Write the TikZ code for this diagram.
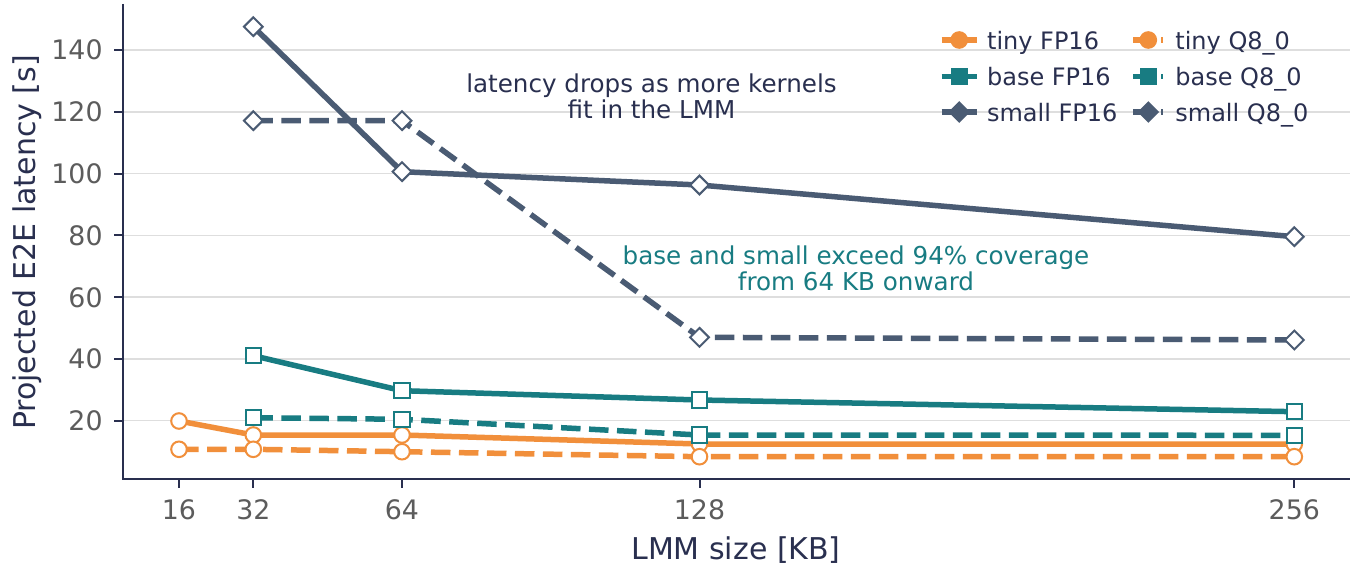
\documentclass[tikz,border=0pt]{standalone}
\usepackage{fontspec}
\setmainfont{DejaVu Sans}
\usetikzlibrary{shapes.geometric}
\definecolor{corange}{HTML}{F18F3B}
\definecolor{cteal}{HTML}{187C82}
\definecolor{cslate}{HTML}{4A5B73}
\definecolor{cnavy}{HTML}{292F4F}
\definecolor{cgray}{HTML}{5C5C5C}
\definecolor{cgrid}{HTML}{DEDEDE}
\begin{document}
\begin{tikzpicture}[x=0.5pt,y=-0.5pt,
  series/.style={line width=2.75pt, line join=round, draw=#1},
  dseries/.style={series=#1, dash pattern=on 9.75pt off 4.25pt},
  mkc/.style={circle, draw=#1, fill=white, line width=1pt, minimum size=7.8pt, inner sep=0pt},
  mks/.style={rectangle, draw=#1, fill=white, line width=1pt, minimum size=7.6pt, inner sep=0pt},
  mkd/.style={diamond, aspect=1, draw=#1, fill=white, line width=1pt, minimum width=9.8pt, minimum height=9.8pt, inner sep=0pt},
  lgc/.style={mkc=#1, fill=#1},
  lgs/.style={mks=#1, fill=#1},
  lgd/.style={mkd=#1, fill=#1},
  ticklab/.style={font=\fontsize{13.4}{16}\selectfont, text=cgray, inner sep=0pt},
  axlab/.style={font=\fontsize{15}{18}\selectfont, text=cnavy, inner sep=0pt},
  lgtext/.style={font=\fontsize{12}{14}\selectfont, text=cnavy, inner sep=0pt, anchor=base west},
  annot/.style={font=\fontsize{12.3}{13.6}\selectfont, inner sep=0pt, align=center, anchor=base},
  gridline/.style={draw=cgrid, line width=0.75pt},
  spine/.style={draw=cnavy, line width=1pt},
  tickmark/.style={draw=cnavy, line width=1pt}
]
\useasboundingbox (0,0) rectangle (1362,567);
\fill[white] (0,0) rectangle (1362,567);

% grid
\foreach \yy in {420.7,359.0,297.2,235.4,173.6,111.8,50.0}
  \draw[gridline] (123,\yy) -- (1350,\yy);

% spines
\coordinate (axtop) at (123,4);
\coordinate (axorigin) at (123,479);
\coordinate (axright) at (1350,479);
\draw[spine] (axtop) -- (axorigin) -- (axright);

% y ticks and labels
\foreach \yy/\lab in {420.7/20,359.0/40,297.2/60,235.4/80,173.6/100,111.8/120,50.0/140}{
  \draw[tickmark] (114,\yy) -- (123,\yy);
  \node[ticklab, anchor=base east] (yt\lab) at (103,\yy+9.8) {\lab};
}
% x ticks and labels
\foreach \xx/\lab in {179/16,253.3/32,402/64,699.5/128,1294.3/256}{
  \draw[tickmark] (\xx,479) -- (\xx,488);
  \node[ticklab, anchor=base] (xt\lab) at (\xx,519.5) {\lab};
}

% axis labels
\node[axlab, anchor=base] (xlabel) at (736,559) {LMM size [KB]};
\node[axlab, anchor=base, rotate=90] (ylabel) at (35,242.5) {Projected E2E latency [s]};

% data coordinates
\coordinate (tf16) at (179,421);
\coordinate (tf32) at (253.3,435);
\coordinate (tf64) at (402,435);
\coordinate (tf128) at (699.5,444);
\coordinate (tf256) at (1294.3,444);
\coordinate (tq16) at (179,449.3);
\coordinate (tq32) at (253.3,449.3);
\coordinate (tq64) at (402,451.7);
\coordinate (tq128) at (699.5,456.7);
\coordinate (tq256) at (1294.3,456.7);
\coordinate (bf32) at (253.3,355.7);
\coordinate (bf64) at (402,390.7);
\coordinate (bf128) at (699.5,400);
\coordinate (bf256) at (1294.3,411.7);
\coordinate (bq32) at (253.3,417.7);
\coordinate (bq64) at (402,419.3);
\coordinate (bq128) at (699.5,435);
\coordinate (bq256) at (1294.3,435.3);
\coordinate (sf32) at (253.3,26.7);
\coordinate (sf64) at (402,171.7);
\coordinate (sf128) at (699.5,185);
\coordinate (sf256) at (1294.3,236.7);
\coordinate (sq32) at (253.3,120.7);
\coordinate (sq64) at (402,120.7);
\coordinate (sq128) at (699.5,337.3);
\coordinate (sq256) at (1294.3,340);

% tiny FP16
\draw[series=corange] (tf16) -- (tf32) -- (tf64) -- (tf128) -- (tf256);
\foreach \p in {16,32,64,128,256} \node[mkc=corange] (mtf\p) at (tf\p) {};
% tiny Q8_0
\draw[dseries=corange] (tq16) -- (tq32) -- (tq64) -- (tq128) -- (tq256);
\foreach \p in {16,32,64,128,256} \node[mkc=corange] (mtq\p) at (tq\p) {};
% base FP16
\draw[series=cteal] (bf32) -- (bf64) -- (bf128) -- (bf256);
\foreach \p in {32,64,128,256} \node[mks=cteal] (mbf\p) at (bf\p) {};
% base Q8_0
\draw[dseries=cteal] (bq32) -- (bq64) -- (bq128) -- (bq256);
\foreach \p in {32,64,128,256} \node[mks=cteal] (mbq\p) at (bq\p) {};
% small FP16
\draw[series=cslate] (sf32) -- (sf64) -- (sf128) -- (sf256);
\foreach \p in {32,64,128,256} \node[mkd=cslate] (msf\p) at (sf\p) {};
% small Q8_0
\draw[dseries=cslate] (sq32) -- (sq64) -- (sq128) -- (sq256);
\foreach \p in {32,64,128,256} \node[mkd=cslate] (msq\p) at (sq\p) {};

% annotations
\node[annot, text=cnavy] (ann1a) at (651.5,92.5) {latency drops as more kernels};
\node[annot, text=cnavy] (ann1b) at (651.5,118.5) {fit in the LMM};
\node[annot, text=cteal] (ann2a) at (856,264.3) {base and small exceed 94\% coverage};
\node[annot, text=cteal] (ann2b) at (856,291) {from 64 KB onward};

% legend
\coordinate (l1a) at (941.7,40);   \coordinate (l1b) at (976.7,40);
\coordinate (l2a) at (941.7,76.5); \coordinate (l2b) at (976.7,76.5);
\coordinate (l3a) at (941.7,112);  \coordinate (l3b) at (976.7,112);
\coordinate (r1a) at (1133.3,40);  \coordinate (r1b) at (1163.3,40);
\coordinate (r2a) at (1133.3,76.5);\coordinate (r2b) at (1163.3,76.5);
\coordinate (r3a) at (1133.3,112); \coordinate (r3b) at (1163.3,112);
\draw[series=corange] (l1a) -- (l1b);
\node[lgc=corange] (lgm1) at (959.2,40) {};
\draw[series=cteal] (l2a) -- (l2b);
\node[lgs=cteal] (lgm2) at (959.2,76.5) {};
\draw[series=cslate] (l3a) -- (l3b);
\node[lgd=cslate] (lgm3) at (959.2,112) {};
\draw[series=corange, dash pattern=on 9pt off 5pt] (r1a) -- (r1b);
\node[lgc=corange] (lgm4) at (1148.3,40) {};
\draw[series=cteal, dash pattern=on 9pt off 5pt] (r2a) -- (r2b);
\node[lgs=cteal] (lgm5) at (1148.3,76.5) {};
\draw[series=cslate, dash pattern=on 9pt off 5pt] (r3a) -- (r3b);
\node[lgd=cslate] (lgm6) at (1148.3,112) {};
\node[lgtext] (lt1) at (986.7,49.3) {tiny FP16};
\node[lgtext] (lt2) at (986.7,85.8) {base FP16};
\node[lgtext] (lt3) at (986.7,121.3) {small FP16};
\node[lgtext] (lt4) at (1175,49.3) {tiny Q8\_0};
\node[lgtext] (lt5) at (1175,85.8) {base Q8\_0};
\node[lgtext] (lt6) at (1175,121.3) {small Q8\_0};
\end{tikzpicture}
\end{document}
